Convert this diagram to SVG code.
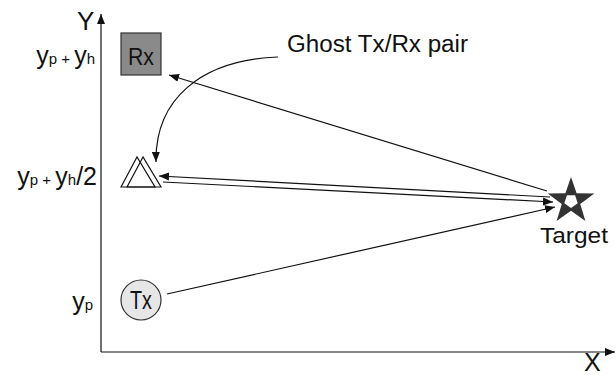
<svg xmlns="http://www.w3.org/2000/svg" width="616" height="375" viewBox="0 0 616 375">
  <style>
    .lbl { font-family: "Liberation Sans", Arial, sans-serif; fill: #111; }
    .ln { stroke: #111; stroke-width: 1.2; fill: none; }
    .sub { font-size: 15px; }
  </style>
  <defs>
    <marker id="arr" viewBox="0 0 10 8" refX="10" refY="4" markerWidth="10" markerHeight="8" markerUnits="userSpaceOnUse" orient="auto">
      <path d="M0,0 L10,4 L0,8 Z" fill="#111"/>
    </marker>
  </defs>
  <rect width="616" height="375" fill="#fff"/>

  <!-- axes -->
  <g id="axes">
    <line class="ln" x1="101" y1="352" x2="101" y2="14" marker-end="url(#arr)"/>
    <line class="ln" x1="101" y1="352" x2="615" y2="352" marker-end="url(#arr)"/>
    <text class="lbl" x="77" y="30" font-size="26">Y</text>
    <text class="lbl" x="584" y="371" font-size="25">X</text>
  </g>

  <!-- axis tick labels -->
  <g id="ticks">
    <text class="lbl" x="95" y="64" font-size="25" text-anchor="end">y<tspan class="sub">p</tspan><tspan class="sub"> + </tspan>y<tspan class="sub">h</tspan></text>
    <text class="lbl" x="97" y="185" font-size="25" text-anchor="end">y<tspan class="sub">p</tspan><tspan class="sub"> + </tspan>y<tspan class="sub">h</tspan>/2</text>
    <text class="lbl" x="93" y="310" font-size="25" text-anchor="end">y<tspan class="sub">p</tspan></text>
  </g>

  <!-- receiver -->
  <g id="rx">
    <rect x="121" y="33" width="40" height="42" fill="#8a8a8a" stroke="#333" stroke-width="1.2"/>
    <text class="lbl" x="141" y="65" font-size="24" text-anchor="middle" textLength="26" lengthAdjust="spacingAndGlyphs">Rx</text>
  </g>

  <!-- transmitter -->
  <g id="tx">
    <circle cx="141" cy="300" r="20" fill="#e6e6e6" stroke="#333" stroke-width="1.2"/>
    <text class="lbl" x="141" y="309" font-size="26" text-anchor="middle" textLength="22" lengthAdjust="spacingAndGlyphs">Tx</text>
  </g>

  <!-- ghost Tx/Rx pair -->
  <g id="ghost">
    <path class="ln" d="M121,187 L137,157 L155,187 Z" stroke-linejoin="miter"/>
    <path class="ln" d="M127,187 L143,157 L161,187 Z" stroke-linejoin="miter"/>
  </g>

  <!-- target -->
  <g id="target">
    <polygon points="571,177 576.6,193.3 594.3,193.5 580.2,204.1 585.4,220.9 571,210.7 556.6,220.9 561.8,204.1 547.7,193.5 565.4,193.3" fill="#333"/>
    <polygon points="575.1,195.3 577.7,203.2 571,208 564.3,203.2 566.9,195.3" fill="#fff"/>
    <text class="lbl" x="574" y="243" font-size="22" text-anchor="middle" textLength="68" lengthAdjust="spacingAndGlyphs">Target</text>
  </g>

  <!-- caption -->
  <g id="caption">
    <text class="lbl" x="287" y="52" font-size="23" textLength="181" lengthAdjust="spacingAndGlyphs">Ghost Tx/Rx pair</text>
  </g>

  <!-- connectors -->
  <g id="connectors">
    <line class="ln" x1="547" y1="191" x2="169" y2="75" marker-end="url(#arr)"/>
    <line class="ln" x1="550" y1="197" x2="159" y2="176" marker-end="url(#arr)"/>
    <line class="ln" x1="163" y1="182" x2="553" y2="202" marker-end="url(#arr)"/>
    <line class="ln" x1="167" y1="294" x2="555" y2="207" marker-end="url(#arr)"/>
    <path class="ln" d="M278,57 C200,60 155,100 156,162" marker-end="url(#arr)"/>
  </g>
</svg>
